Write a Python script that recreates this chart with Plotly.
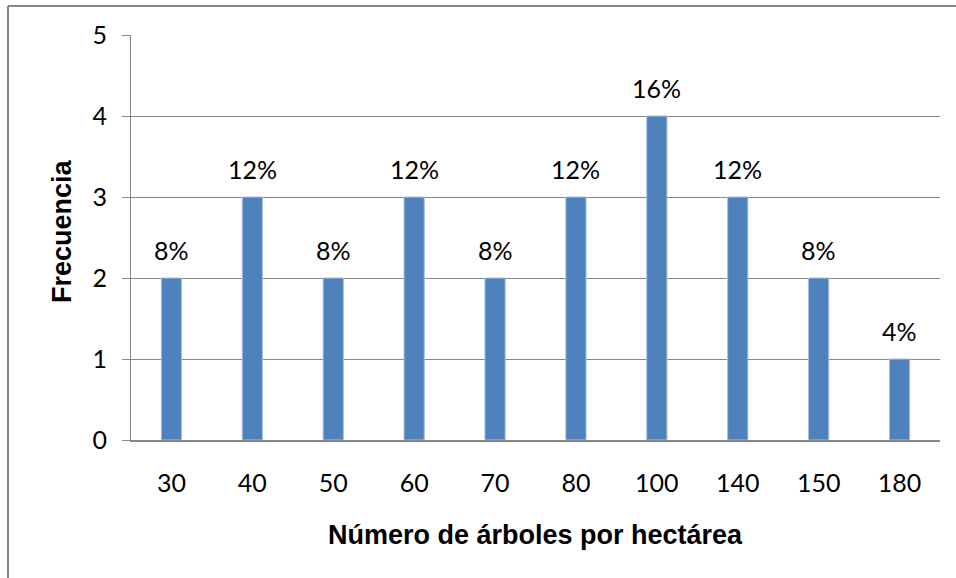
import plotly.graph_objects as go

categories = ["30", "40", "50", "60", "70", "80", "100", "140", "150", "180"]
frecuencia = [2, 3, 2, 3, 2, 3, 4, 3, 2, 1]
total = sum(frecuencia)
pct_labels = [f"{round(v / total * 100)}%" for v in frecuencia]

W, H = 956, 578
L, R, T, B = 131, 16, 35, 138
pw, ph = W - L - R, H - T - B

def px_x(px):
    return (px - L) / pw

def px_y(py):
    return (H - B - py) / ph

grey = "#868686"
tick_font = dict(family="Lato, Open Sans, sans-serif", size=25, color="#000000")
title_font = dict(family="Liberation Sans, Arial, sans-serif", size=27, color="#000000")

fig = go.Figure(go.Bar(
    x=categories, y=frecuencia,
    marker=dict(color="#4F81BD", line=dict(color="#A7C0E0", width=1)),
    width=0.25,
))

# category axis positions are the category indices
label_annotations = [
    dict(text=t, x=i, y=v, xref="x", yref="y", xanchor="center", yanchor="bottom",
         yshift=11, showarrow=False, font=tick_font)
    for i, (v, t) in enumerate(zip(frecuencia, pct_labels))
]

fig.update_layout(
    width=W, height=H,
    margin=dict(l=L, r=R, t=T, b=B),
    paper_bgcolor="white", plot_bgcolor="white",
    showlegend=False,
    xaxis=dict(type="category", categoryarray=categories, range=[-0.5, len(categories) - 0.5],
               showgrid=False, showline=True, linecolor=grey, linewidth=2,
               ticks="", tickfont=tick_font, ticklabelstandoff=20, zeroline=False),
    yaxis=dict(range=[0, 5], dtick=1, showgrid=True, gridcolor=grey, gridwidth=1,
               showline=True, linecolor=grey, linewidth=1, ticks="outside", ticklen=8,
               tickcolor=grey, tickfont=tick_font, zeroline=False, ticklabelstandoff=10),
    annotations=label_annotations + [
        dict(text="<b>Número de árboles por hectárea</b>", xref="paper", yref="paper",
             x=0.5, y=px_y(535), xanchor="center", yanchor="middle", showarrow=False,
             font=title_font),
        dict(text="<b>Frecuencia</b>", xref="paper", yref="paper",
             x=px_x(62), y=px_y(231), xanchor="center", yanchor="middle", showarrow=False,
             textangle=-90, font=title_font),
    ],
    shapes=[
        dict(type="line", xref="paper", yref="paper", x0=px_x(8), x1=px_x(960),
             y0=px_y(6), y1=px_y(6), line=dict(color=grey, width=2)),
        dict(type="line", xref="paper", yref="paper", x0=px_x(8), x1=px_x(8),
             y0=px_y(6), y1=px_y(600), line=dict(color=grey, width=2)),
    ],
)

fig.write_html("out.html", config={"displayModeBar": False},
               post_script="document.body.style.margin='0';")
